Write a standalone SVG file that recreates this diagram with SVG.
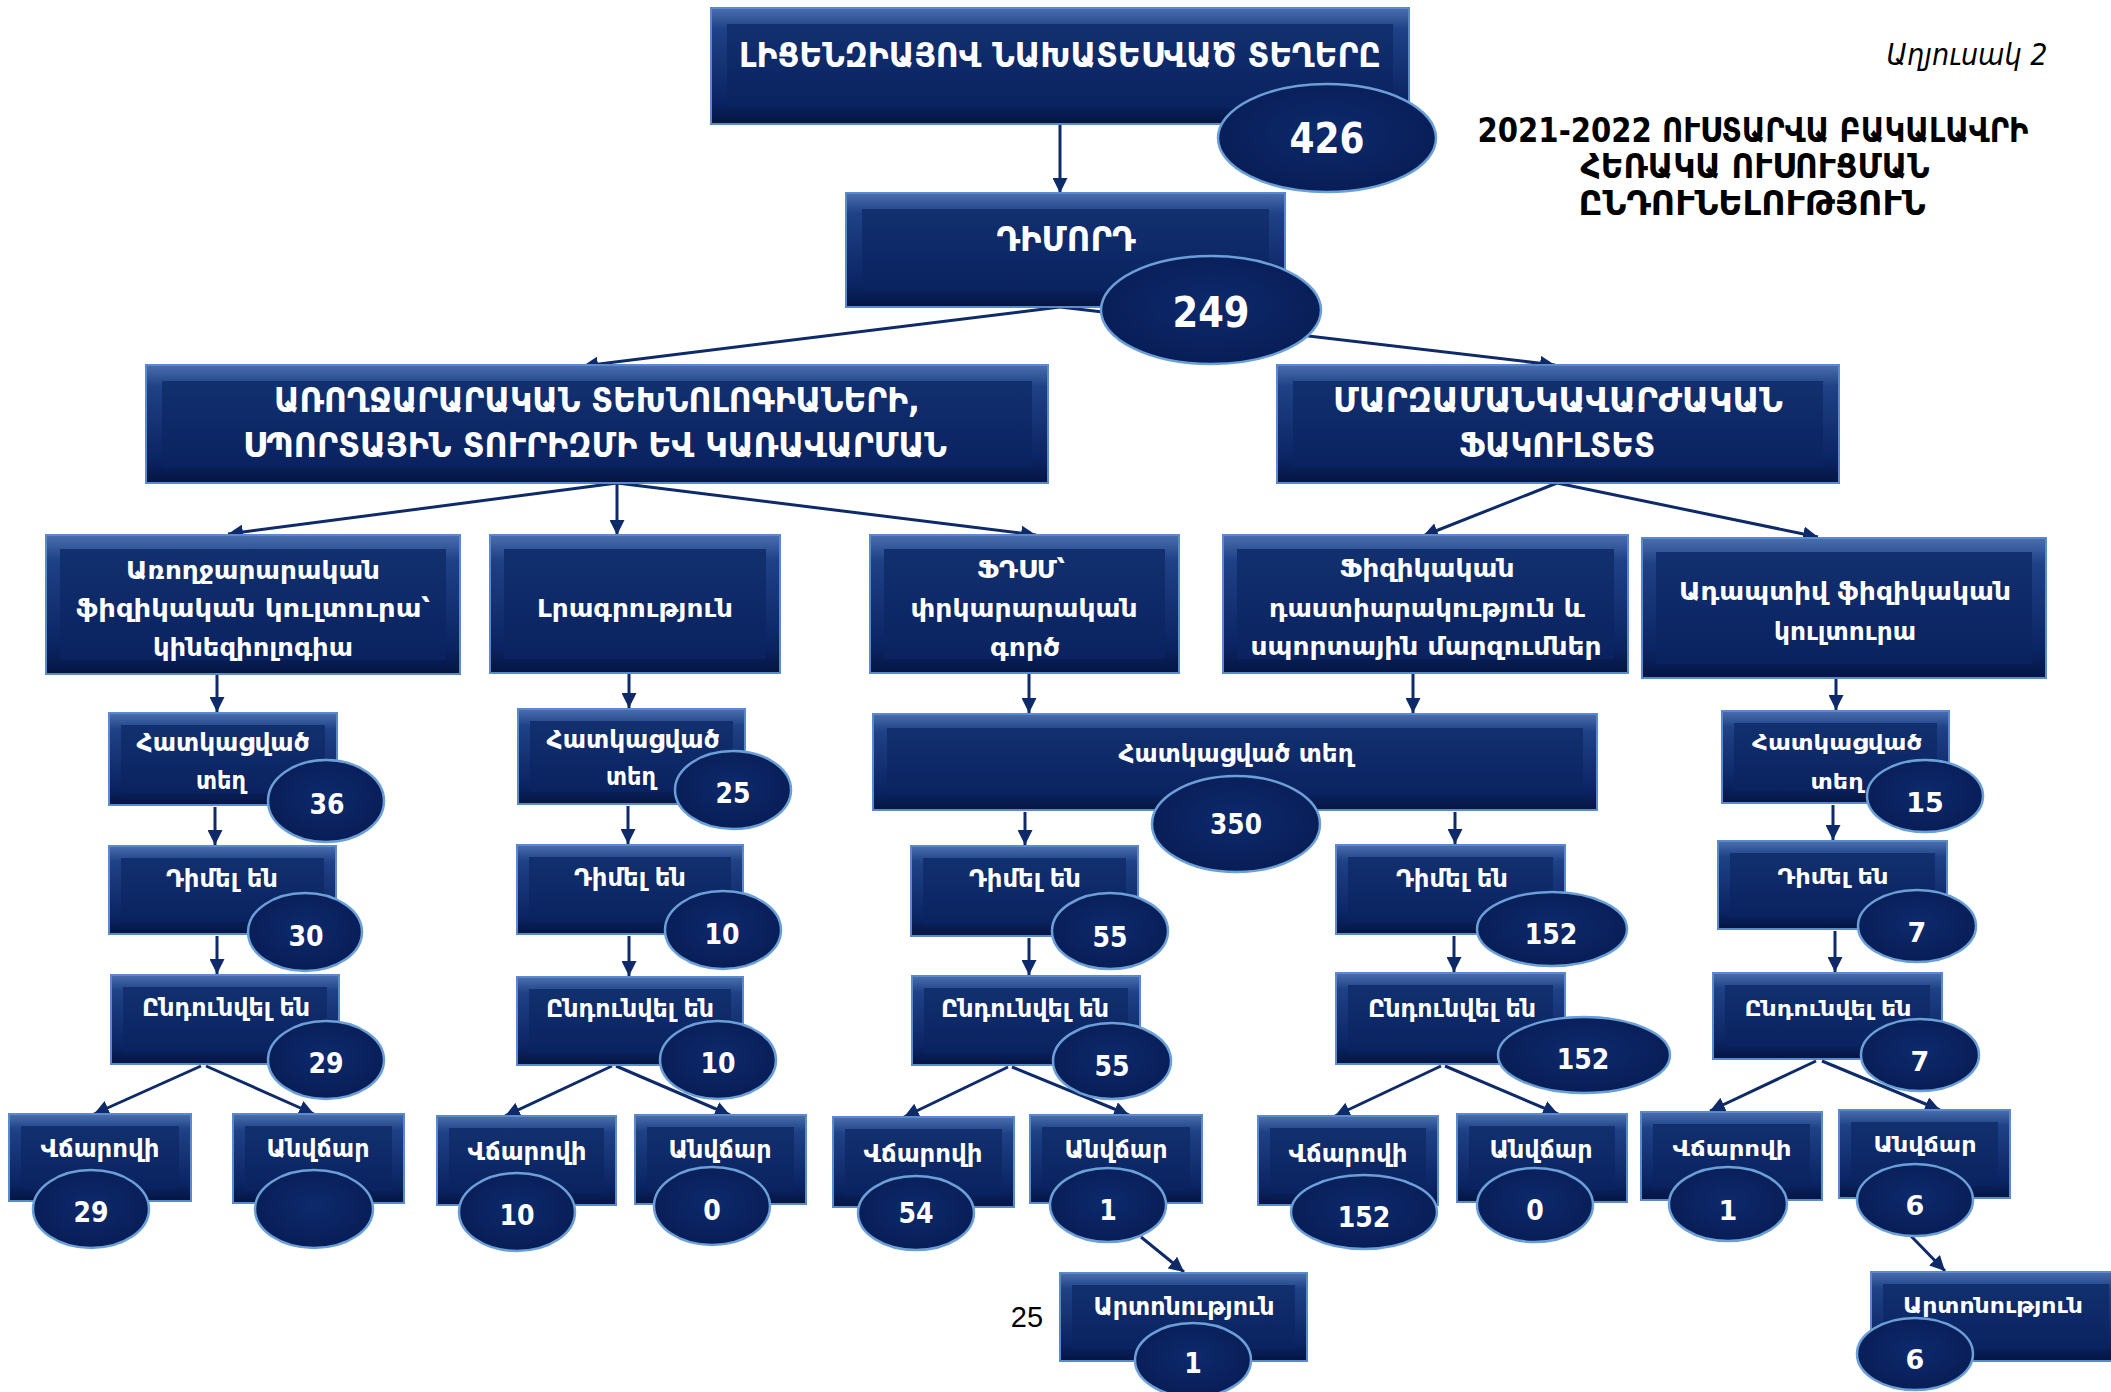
<svg xmlns="http://www.w3.org/2000/svg" width="2111" height="1392" viewBox="0 0 2111 1392">
<defs>
<linearGradient id="gOut" x1="0" y1="0" x2="0" y2="1">
<stop offset="0" stop-color="#4a6fae"/>
<stop offset="0.18" stop-color="#1f4186"/>
<stop offset="0.8" stop-color="#0b2463"/>
<stop offset="1" stop-color="#051542"/>
</linearGradient>
<linearGradient id="gIn" x1="0" y1="0" x2="0" y2="1">
<stop offset="0" stop-color="#12306f"/>
<stop offset="1" stop-color="#0a2260"/>
</linearGradient>
<radialGradient id="gEl" cx="0.5" cy="0.45" r="0.6">
<stop offset="0" stop-color="#0d2a6c"/>
<stop offset="1" stop-color="#081c55"/>
</radialGradient>
<marker id="ah" viewBox="0 0 10 10" refX="10" refY="5" markerWidth="15" markerHeight="15" markerUnits="userSpaceOnUse" orient="auto">
<path d="M0,0 L10,5 L0,10 z" fill="#0e2a68"/>
</marker>
<style>
.bo{fill:url(#gOut);stroke:#5a8acb;stroke-width:2}
.bi{fill:url(#gIn)}
.el{fill:url(#gEl);stroke:#6a9fd8;stroke-width:2.5}
.cn{stroke:#0e2a68;stroke-width:3;fill:none;marker-end:url(#ah)}
text{fill:#ffffff;text-anchor:middle;font-family:"DejaVu Sans Condensed","DejaVu Sans","Noto Sans",sans-serif;font-stretch:condensed;font-weight:bold}
.cap{font-size:33px}
.lbl{font-size:25px}
.num{font-size:28px}
.big{font-size:43px}
.wl{font-family:"DejaVu Sans","Noto Sans",sans-serif;font-stretch:normal;font-size:21px}
.wn{font-family:"DejaVu Sans","Noto Sans",sans-serif;font-stretch:normal;font-size:27px}
.ttl{fill:#000000;font-size:33px}
.cap2{fill:#000000;font-style:italic;font-weight:normal;font-size:30px}
.pg{fill:#000000;font-family:"Liberation Sans",Arial,sans-serif;font-weight:normal;font-stretch:normal;font-size:29px}
</style>
</defs>
<rect width="2111" height="1392" fill="#ffffff"/>

<g id="connectors">
<path class="cn" d="M1060,124 L1060,193"/>
<path class="cn" d="M1060,307 L583,366"/>
<path class="cn" d="M1060,307 L1555,365"/>
<path class="cn" d="M617,483 L228,534"/>
<path class="cn" d="M617,483 L617,535"/>
<path class="cn" d="M617,483 L1036,535"/>
<path class="cn" d="M1557,483 L1423,536"/>
<path class="cn" d="M1557,483 L1818,537"/>
<path class="cn" d="M217,675 L217,712"/>
<path class="cn" d="M629,674 L629,708"/>
<path class="cn" d="M1029,674 L1029,713"/>
<path class="cn" d="M1413,674 L1413,713"/>
<path class="cn" d="M1836,679 L1836,710"/>
<path class="cn" d="M215,807 L215,845"/>
<path class="cn" d="M217,936 L217,974"/>
<path class="cn" d="M201,1066 L94,1114"/>
<path class="cn" d="M206,1066 L314,1114"/>
<path class="cn" d="M628,806 L628,844"/>
<path class="cn" d="M629,936 L629,976"/>
<path class="cn" d="M612,1066 L505,1116"/>
<path class="cn" d="M616,1066 L730,1115"/>
<path class="cn" d="M1025,812 L1025,845"/>
<path class="cn" d="M1455,812 L1455,844"/>
<path class="cn" d="M1029,938 L1029,975"/>
<path class="cn" d="M1008,1067 L904,1117"/>
<path class="cn" d="M1012,1067 L1129,1115"/>
<path class="cn" d="M1141,1237 L1184,1272"/>
<path class="cn" d="M1454,936 L1454,972"/>
<path class="cn" d="M1441,1066 L1335,1116"/>
<path class="cn" d="M1445,1066 L1558,1114"/>
<path class="cn" d="M1833,805 L1833,840"/>
<path class="cn" d="M1835,931 L1835,972"/>
<path class="cn" d="M1816,1061 L1710,1111"/>
<path class="cn" d="M1822,1061 L1940,1110"/>
<path class="cn" d="M1910,1235 L1945,1271"/>
</g>

<g id="title">
<text class="cap2" x="1967" y="65" textLength="161" lengthAdjust="spacingAndGlyphs">Աղյուսակ 2</text>
<text class="ttl" x="1753" y="142" textLength="551" lengthAdjust="spacingAndGlyphs">2021-2022 ՈՒՍՏԱՐՎԱ ԲԱԿԱԼԱՎՐԻ</text>
<text class="ttl" x="1755" y="178" textLength="349" lengthAdjust="spacingAndGlyphs">ՀԵՌԱԿԱ ՈՒՍՈՒՑՄԱՆ</text>
<text class="ttl" x="1752" y="215" textLength="347" lengthAdjust="spacingAndGlyphs">ԸՆԴՈՒՆԵԼՈՒԹՅՈՒՆ</text>
</g>

<g id="n-top">
<rect class="bo" x="711" y="8" width="698" height="116"/><rect class="bi" x="727" y="24" width="666" height="84"/>
<text class="cap" x="1060" y="67" font-size="37" textLength="642" lengthAdjust="spacingAndGlyphs">ԼԻՑԵՆԶԻԱՅՈՎ ՆԱԽԱՏԵՍՎԱԾ ՏԵՂԵՐԸ</text>
<ellipse class="el" cx="1327" cy="138" rx="109" ry="54"/>
<text class="big" x="1327" y="153" textLength="75" lengthAdjust="spacingAndGlyphs">426</text>
</g>

<g id="n-dimord">
<rect class="bo" x="846" y="193" width="439" height="114"/><rect class="bi" x="862" y="209" width="407" height="82"/>
<text class="cap" x="1066" y="251" font-size="31" textLength="139" lengthAdjust="spacingAndGlyphs">ԴԻՄՈՐԴ</text>
<ellipse class="el" cx="1211" cy="310" rx="110" ry="54"/>
<text class="big" x="1211" y="327" textLength="77" lengthAdjust="spacingAndGlyphs">249</text>
</g>

<g id="n-fac1">
<rect class="bo" x="146" y="365" width="902" height="118"/><rect class="bi" x="162" y="381" width="870" height="86"/>
<text class="cap" x="597" y="412" textLength="646" lengthAdjust="spacingAndGlyphs">ԱՌՈՂՋԱՐԱՐԱԿԱՆ ՏԵԽՆՈԼՈԳԻԱՆԵՐԻ,</text>
<text class="cap" x="595" y="457" textLength="704" lengthAdjust="spacingAndGlyphs">ՍՊՈՐՏԱՅԻՆ ՏՈՒՐԻԶՄԻ ԵՎ ԿԱՌԱՎԱՐՄԱՆ</text>
</g>

<g id="n-fac2">
<rect class="bo" x="1277" y="365" width="562" height="118"/><rect class="bi" x="1293" y="381" width="530" height="86"/>
<text class="cap" x="1558" y="412" textLength="450" lengthAdjust="spacingAndGlyphs">ՄԱՐԶԱՄԱՆԿԱՎԱՐԺԱԿԱՆ</text>
<text class="cap" x="1557" y="457" textLength="196" lengthAdjust="spacingAndGlyphs">ՖԱԿՈՒԼՏԵՏ</text>
</g>

<g id="n-a">
<rect class="bo" x="46" y="535" width="414" height="139"/><rect class="bi" x="60" y="549" width="386" height="111"/>
<text class="lbl" x="253" y="579" font-size="27" textLength="254" lengthAdjust="spacingAndGlyphs">Առողջարարական</text>
<text class="lbl" x="253" y="617" font-size="27" textLength="354" lengthAdjust="spacingAndGlyphs">ֆիզիկական կուլտուրա՝</text>
<text class="lbl" x="253" y="656" font-size="27" textLength="200" lengthAdjust="spacingAndGlyphs">կինեզիոլոգիա</text>
</g>

<g id="n-b">
<rect class="bo" x="490" y="535" width="290" height="138"/><rect class="bi" x="504" y="549" width="262" height="110"/>
<text class="lbl" x="635" y="617" font-size="27" textLength="196" lengthAdjust="spacingAndGlyphs">Լրագրություն</text>
</g>

<g id="n-c">
<rect class="bo" x="870" y="535" width="309" height="138"/><rect class="bi" x="884" y="549" width="281" height="110"/>
<text class="lbl" x="1021" y="578" font-size="27" textLength="88" lengthAdjust="spacingAndGlyphs">ՖԴՍՄ՝</text>
<text class="lbl" x="1024" y="617" font-size="27" textLength="227" lengthAdjust="spacingAndGlyphs">փրկարարական</text>
<text class="lbl" x="1025" y="656" font-size="27" textLength="70" lengthAdjust="spacingAndGlyphs">գործ</text>
</g>

<g id="n-d">
<rect class="bo" x="1223" y="535" width="405" height="138"/><rect class="bi" x="1237" y="549" width="377" height="110"/>
<text class="lbl" x="1427" y="577" font-size="27" textLength="175" lengthAdjust="spacingAndGlyphs">Ֆիզիկական</text>
<text class="lbl" x="1427" y="617" font-size="27" textLength="316" lengthAdjust="spacingAndGlyphs">դաստիարակություն և</text>
<text class="lbl" x="1426" y="655" font-size="27" textLength="351" lengthAdjust="spacingAndGlyphs">սպորտային մարզումներ</text>
</g>

<g id="n-e">
<rect class="bo" x="1642" y="538" width="404" height="140"/><rect class="bi" x="1656" y="552" width="376" height="112"/>
<text class="lbl" x="1845" y="600" font-size="27" textLength="332" lengthAdjust="spacingAndGlyphs">Ադապտիվ ֆիզիկական</text>
<text class="lbl" x="1845" y="640" font-size="27" textLength="142" lengthAdjust="spacingAndGlyphs">կուլտուրա</text>
</g>

<!-- A chain -->
<g id="n-a1">
<rect class="bo" x="109" y="713" width="228" height="92"/><rect class="bi" x="121" y="725" width="204" height="68"/>
<text class="lbl" x="223" y="751" textLength="173" lengthAdjust="spacingAndGlyphs">Հատկացված</text>
<text class="lbl" x="221" y="789" textLength="50" lengthAdjust="spacingAndGlyphs">տեղ</text>
<ellipse class="el" cx="326" cy="801" rx="58" ry="41"/>
<text class="num" x="327" y="814">36</text>
</g>
<g id="n-a2">
<rect class="bo" x="109" y="846" width="227" height="88"/><rect class="bi" x="121" y="858" width="203" height="64"/>
<text class="lbl" x="222" y="887" textLength="112" lengthAdjust="spacingAndGlyphs">Դիմել են</text>
<ellipse class="el" cx="305" cy="932" rx="57" ry="39"/>
<text class="num" x="306" y="946">30</text>
</g>
<g id="n-a3">
<rect class="bo" x="111" y="975" width="228" height="89"/><rect class="bi" x="123" y="987" width="204" height="65"/>
<text class="lbl" x="226" y="1016" textLength="168" lengthAdjust="spacingAndGlyphs">Ընդունվել են</text>
<ellipse class="el" cx="326" cy="1060" rx="58" ry="39"/>
<text class="num" x="326" y="1073">29</text>
</g>
<g id="n-a4">
<rect class="bo" x="9" y="1114" width="182" height="87"/><rect class="bi" x="21" y="1126" width="158" height="63"/>
<text class="lbl" x="100" y="1157" textLength="119" lengthAdjust="spacingAndGlyphs">Վճարովի</text>
<ellipse class="el" cx="91" cy="1209" rx="58" ry="39"/>
<text class="num" x="91" y="1222">29</text>
</g>
<g id="n-a5">
<rect class="bo" x="233" y="1114" width="171" height="89"/><rect class="bi" x="245" y="1126" width="147" height="65"/>
<text class="lbl" x="318" y="1157" textLength="103" lengthAdjust="spacingAndGlyphs">Անվճար</text>
<ellipse class="el" cx="314" cy="1209" rx="59" ry="39"/>
</g>

<!-- B chain -->
<g id="n-b1">
<rect class="bo" x="518" y="709" width="227" height="95"/><rect class="bi" x="530" y="721" width="203" height="71"/>
<text class="lbl" x="633" y="748" textLength="173" lengthAdjust="spacingAndGlyphs">Հատկացված</text>
<text class="lbl" x="631" y="785" textLength="50" lengthAdjust="spacingAndGlyphs">տեղ</text>
<ellipse class="el" cx="733" cy="790" rx="58" ry="39"/>
<text class="num" x="733" y="803">25</text>
</g>
<g id="n-b2">
<rect class="bo" x="517" y="845" width="226" height="89"/><rect class="bi" x="529" y="857" width="202" height="65"/>
<text class="lbl" x="630" y="886" textLength="112" lengthAdjust="spacingAndGlyphs">Դիմել են</text>
<ellipse class="el" cx="723" cy="930" rx="58" ry="39"/>
<text class="num" x="722" y="944">10</text>
</g>
<g id="n-b3">
<rect class="bo" x="517" y="977" width="226" height="88"/><rect class="bi" x="529" y="989" width="202" height="64"/>
<text class="lbl" x="630" y="1017" textLength="168" lengthAdjust="spacingAndGlyphs">Ընդունվել են</text>
<ellipse class="el" cx="718" cy="1060" rx="58" ry="39"/>
<text class="num" x="718" y="1073">10</text>
</g>
<g id="n-b4">
<rect class="bo" x="437" y="1116" width="179" height="89"/><rect class="bi" x="449" y="1128" width="155" height="65"/>
<text class="lbl" x="527" y="1160" textLength="119" lengthAdjust="spacingAndGlyphs">Վճարովի</text>
<ellipse class="el" cx="517" cy="1212" rx="58" ry="39"/>
<text class="num" x="517" y="1225">10</text>
</g>
<g id="n-b5">
<rect class="bo" x="635" y="1115" width="171" height="89"/><rect class="bi" x="647" y="1127" width="147" height="65"/>
<text class="lbl" x="720" y="1158" textLength="103" lengthAdjust="spacingAndGlyphs">Անվճար</text>
<ellipse class="el" cx="712" cy="1206" rx="58" ry="39"/>
<text class="num" x="712" y="1220">0</text>
</g>

<!-- shared allocated box -->
<g id="n-cd">
<rect class="bo" x="873" y="714" width="724" height="96"/><rect class="bi" x="887" y="728" width="696" height="68"/>
<text class="lbl" x="1236" y="762" textLength="235" lengthAdjust="spacingAndGlyphs">Հատկացված տեղ</text>
<ellipse class="el" cx="1236" cy="824" rx="84" ry="48"/>
<text class="num" x="1236" y="834" textLength="52" lengthAdjust="spacingAndGlyphs">350</text>
</g>

<!-- C chain -->
<g id="n-c2">
<rect class="bo" x="911" y="846" width="227" height="90"/><rect class="bi" x="923" y="858" width="203" height="66"/>
<text class="lbl" x="1025" y="887" textLength="112" lengthAdjust="spacingAndGlyphs">Դիմել են</text>
<ellipse class="el" cx="1110" cy="931" rx="58" ry="38"/>
<text class="num" x="1110" y="947">55</text>
</g>
<g id="n-c3">
<rect class="bo" x="912" y="976" width="228" height="89"/><rect class="bi" x="924" y="988" width="204" height="65"/>
<text class="lbl" x="1025" y="1017" textLength="168" lengthAdjust="spacingAndGlyphs">Ընդունվել են</text>
<ellipse class="el" cx="1112" cy="1061" rx="59" ry="38"/>
<text class="num" x="1112" y="1076">55</text>
</g>
<g id="n-c4">
<rect class="bo" x="833" y="1117" width="181" height="90"/><rect class="bi" x="845" y="1129" width="157" height="66"/>
<text class="lbl" x="923" y="1162" textLength="119" lengthAdjust="spacingAndGlyphs">Վճարովի</text>
<ellipse class="el" cx="916" cy="1213" rx="58" ry="37"/>
<text class="num" x="916" y="1223">54</text>
</g>
<g id="n-c5">
<rect class="bo" x="1030" y="1115" width="172" height="88"/><rect class="bi" x="1042" y="1127" width="148" height="64"/>
<text class="lbl" x="1116" y="1158" textLength="103" lengthAdjust="spacingAndGlyphs">Անվճար</text>
<ellipse class="el" cx="1108" cy="1205" rx="58" ry="37"/>
<text class="num" x="1108" y="1220">1</text>
</g>
<g id="n-c6">
<rect class="bo" x="1060" y="1273" width="247" height="88"/><rect class="bi" x="1072" y="1285" width="223" height="64"/>
<text class="lbl" x="1184" y="1315" textLength="181" lengthAdjust="spacingAndGlyphs">Արտոնություն</text>
<ellipse class="el" cx="1193" cy="1360" rx="58" ry="37"/>
<text class="num" x="1193" y="1373">1</text>
</g>

<!-- D chain -->
<g id="n-d2">
<rect class="bo" x="1336" y="845" width="229" height="89"/><rect class="bi" x="1348" y="857" width="205" height="65"/>
<text class="lbl" x="1452" y="887" textLength="112" lengthAdjust="spacingAndGlyphs">Դիմել են</text>
<ellipse class="el" cx="1552" cy="929" rx="75" ry="37"/>
<text class="num" x="1551" y="944">152</text>
</g>
<g id="n-d3">
<rect class="bo" x="1336" y="973" width="229" height="91"/><rect class="bi" x="1348" y="985" width="205" height="67"/>
<text class="lbl" x="1452" y="1017" textLength="168" lengthAdjust="spacingAndGlyphs">Ընդունվել են</text>
<ellipse class="el" cx="1584" cy="1055" rx="86" ry="38"/>
<text class="num" x="1583" y="1069">152</text>
</g>
<g id="n-d4">
<rect class="bo" x="1258" y="1116" width="180" height="89"/><rect class="bi" x="1270" y="1128" width="156" height="65"/>
<text class="lbl" x="1348" y="1162" textLength="119" lengthAdjust="spacingAndGlyphs">Վճարովի</text>
<ellipse class="el" cx="1364" cy="1212" rx="73" ry="37"/>
<text class="num" x="1364" y="1227">152</text>
</g>
<g id="n-d5">
<rect class="bo" x="1457" y="1114" width="170" height="88"/><rect class="bi" x="1469" y="1126" width="146" height="64"/>
<text class="lbl" x="1541" y="1158" textLength="103" lengthAdjust="spacingAndGlyphs">Անվճար</text>
<ellipse class="el" cx="1535" cy="1205" rx="58" ry="37"/>
<text class="num" x="1535" y="1220">0</text>
</g>

<!-- E chain -->
<g id="n-e1">
<rect class="bo" x="1722" y="711" width="227" height="92"/><rect class="bi" x="1734" y="723" width="203" height="68"/>
<text class="lbl wl" x="1837" y="750" textLength="170" lengthAdjust="spacingAndGlyphs">Հատկացված</text>
<text class="lbl wl" x="1837" y="789" textLength="53" lengthAdjust="spacingAndGlyphs">տեղ</text>
<ellipse class="el" cx="1925" cy="796" rx="58" ry="36"/>
<text class="wn" x="1925" y="812">15</text>
</g>
<g id="n-e2">
<rect class="bo" x="1718" y="841" width="229" height="88"/><rect class="bi" x="1730" y="853" width="205" height="64"/>
<text class="lbl wl" x="1833" y="884" textLength="111" lengthAdjust="spacingAndGlyphs">Դիմել են</text>
<ellipse class="el" cx="1917" cy="926" rx="59" ry="36"/>
<text class="wn" x="1917" y="942">7</text>
</g>
<g id="n-e3">
<rect class="bo" x="1713" y="973" width="229" height="86"/><rect class="bi" x="1725" y="985" width="205" height="62"/>
<text class="lbl wl" x="1828" y="1016" textLength="167" lengthAdjust="spacingAndGlyphs">Ընդունվել են</text>
<ellipse class="el" cx="1920" cy="1055" rx="59" ry="36"/>
<text class="wn" x="1920" y="1071">7</text>
</g>
<g id="n-e4">
<rect class="bo" x="1641" y="1112" width="181" height="88"/><rect class="bi" x="1653" y="1124" width="157" height="64"/>
<text class="lbl wl" x="1732" y="1156" textLength="119" lengthAdjust="spacingAndGlyphs">Վճարովի</text>
<ellipse class="el" cx="1728" cy="1204" rx="59" ry="37"/>
<text class="wn" x="1728" y="1220">1</text>
</g>
<g id="n-e5">
<rect class="bo" x="1839" y="1110" width="171" height="88"/><rect class="bi" x="1851" y="1122" width="147" height="64"/>
<text class="lbl wl" x="1925" y="1152" textLength="103" lengthAdjust="spacingAndGlyphs">Անվճար</text>
<ellipse class="el" cx="1915" cy="1200" rx="58" ry="36"/>
<text class="wn" x="1915" y="1215">6</text>
</g>
<g id="n-e6">
<rect class="bo" x="1871" y="1272" width="250" height="89"/><rect class="bi" x="1883" y="1284" width="226" height="65"/>
<text class="lbl wl" x="1993" y="1313" textLength="180" lengthAdjust="spacingAndGlyphs">Արտոնություն</text>
<ellipse class="el" cx="1915" cy="1354" rx="58" ry="36"/>
<text class="wn" x="1915" y="1369">6</text>
</g>

<text class="pg" x="1027" y="1327">25</text>
</svg>
